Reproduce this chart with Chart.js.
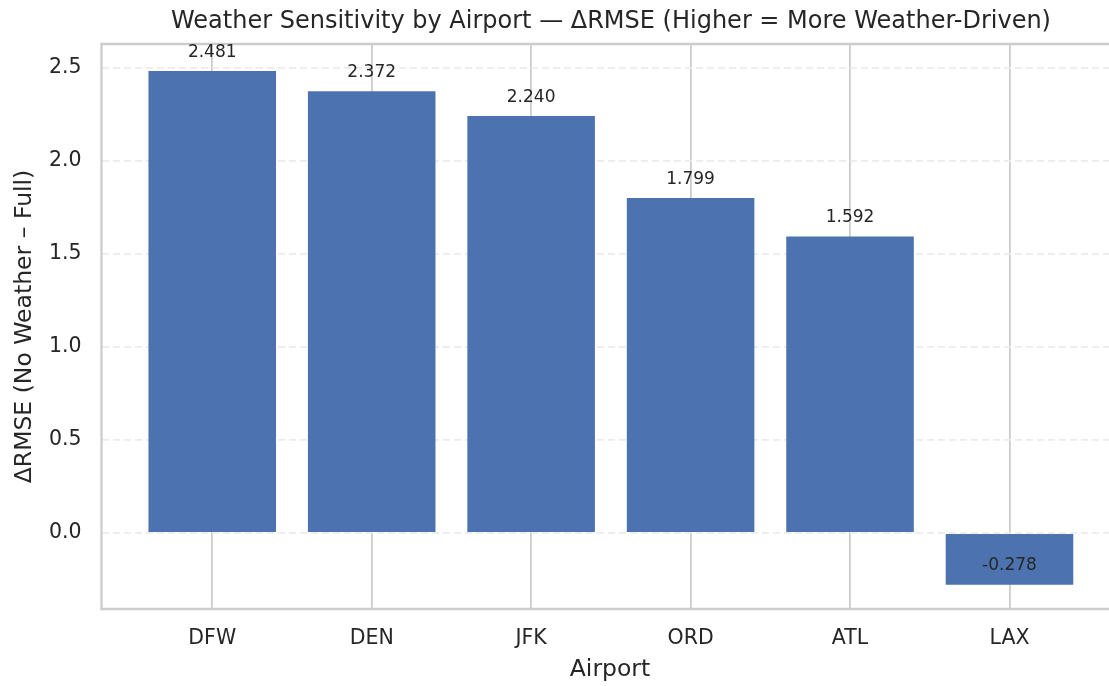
<!DOCTYPE html>
<html>
<head>
<meta charset="utf-8">
<script src="https://cdn.jsdelivr.net/npm/chart.js@4/dist/chart.umd.min.js"></script>
<style>
  html, body { margin: 0; padding: 0; background: #ffffff; overflow: hidden; }
  #wrap { position: relative; width: 1122px; height: 686px; }
</style>
</head>
<body>
<div id="wrap"><canvas id="chart"></canvas></div>
<script>
// Airports, ordered by weather sensitivity
const airports = ['DFW', 'DEN', 'JFK', 'ORD', 'ATL', 'LAX'];
// ΔRMSE = RMSE(no weather features) − RMSE(full model)
const deltaRmse = [2.481, 2.372, 2.240, 1.799, 1.592, -0.278];
// Y-axis tick values
const yTicks = [0.0, 0.5, 1.0, 1.5, 2.0, 2.5];

const TITLE = 'Weather Sensitivity by Airport — ΔRMSE (Higher = More Weather-Driven)';
const FONT = '"DejaVu Sans", "Liberation Sans", sans-serif';
const TEXT = '#262626';

// Title, axis titles, spines and value labels
const decorations = {
  id: 'decorations',
  afterDatasetsDraw(chart) {
    const { ctx, chartArea: a, scales: { x, y } } = chart;
    ctx.save();
    // spines (left, top, bottom)
    ctx.strokeStyle = '#cccccc';
    ctx.lineWidth = 2.3;
    ctx.lineCap = 'square';
    ctx.beginPath();
    ctx.moveTo(a.left, a.top); ctx.lineTo(a.right, a.top);
    ctx.moveTo(a.left, a.top); ctx.lineTo(a.left, a.bottom);
    ctx.moveTo(a.left, a.bottom); ctx.lineTo(a.right, a.bottom);
    ctx.stroke();

    // value labels just above each value
    ctx.fillStyle = TEXT;
    ctx.font = '17px ' + FONT;
    ctx.textAlign = 'center';
    ctx.textBaseline = 'alphabetic';
    deltaRmse.forEach((v, i) => {
      const px = x.getPixelForValue(i);
      const py = y.getPixelForValue(v + 0.05) - 5;
      ctx.fillText(v.toFixed(3), px, py);
    });

    // title
    ctx.font = '24px ' + FONT;
    ctx.textBaseline = 'middle';
    ctx.fillText(TITLE, 611, 22);

    // x-axis title
    ctx.font = '23.5px ' + FONT;
    ctx.fillText('Airport', 610, 670);

    // y-axis title
    ctx.translate(25, (a.top + a.bottom) / 2);
    ctx.rotate(-Math.PI / 2);
    ctx.fillText('ΔRMSE (No Weather – Full)', 0, 0);
    ctx.restore();
  }
};

new Chart(document.getElementById('chart'), {
  type: 'bar',
  data: {
    datasets: [{
      data: deltaRmse.map((v, i) => ({ x: i, y: v })),
      backgroundColor: '#4c72b0',
      borderWidth: 0,
      categoryPercentage: 0.8,
      barPercentage: 1.0
    }]
  },
  options: {
    responsive: true,
    maintainAspectRatio: false,
    animation: false,
    devicePixelRatio: 1,
    layout: { padding: { left: 0, right: 2.5, top: 44, bottom: 0 } },
    plugins: { legend: { display: false }, tooltip: { enabled: false }, title: { display: false } },
    scales: {
      x: {
        type: 'linear',
        min: -0.6945,
        max: 5.69,
        offset: false,
        afterBuildTicks: s => { s.ticks = airports.map((_, i) => ({ value: i })); },
        afterFit: s => { s.height = 77; },
        ticks: {
          callback: v => airports[v] ?? '',
          color: TEXT,
          font: { family: FONT, size: 20.5 },
          padding: 17,
          maxRotation: 0,
          autoSkip: false
        },
        grid: { color: '#cccccc', lineWidth: 1.8, drawTicks: false, offset: false },
        border: { display: false }
      },
      y: {
        min: -0.408,
        max: 2.626,
        afterBuildTicks: s => { s.ticks = yTicks.map(v => ({ value: v })); },
        afterFit: s => { s.width = 101.5; },
        ticks: {
          callback: v => v.toFixed(1),
          color: TEXT,
          font: { family: FONT, size: 20.5 },
          padding: 20
        },
        grid: { color: '#ebebeb', lineWidth: 1.8, drawTicks: false },
        border: { display: false, dash: [7, 4] }
      }
    }
  },
  plugins: [decorations]
});
</script>
</body>
</html>
